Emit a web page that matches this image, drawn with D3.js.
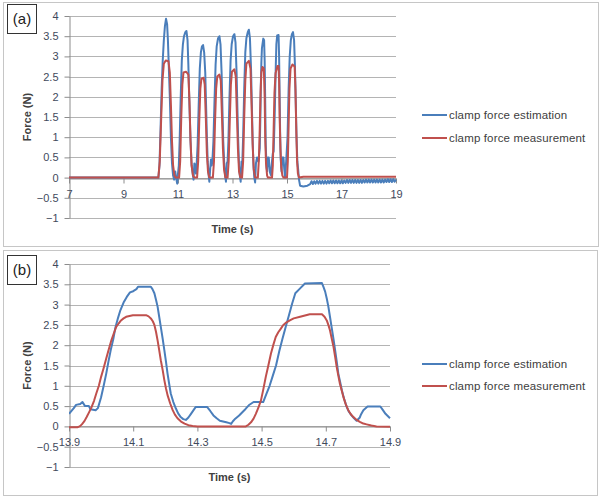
<!DOCTYPE html>
<html><head><meta charset="utf-8">
<script src="https://cdn.jsdelivr.net/npm/d3@7"></script>
<style>
html,body{margin:0;padding:0;background:#fff;}
svg{display:block;font-family:"Liberation Sans",Arial,sans-serif;}
</style></head>
<body><svg id="c" width="600" height="496"></svg>
<script>
// ---------- DATA ----------
const seriesNames = ["clamp force estimation", "clamp force measurement"];
const seriesColors = ["#4a7ebb", "#c0504d"];
const yTicks = [-1, -0.5, 0, 0.5, 1, 1.5, 2, 2.5, 3, 3.5, 4];
const xTicksA = [7, 9, 11, 13, 15, 17, 19];
const xTicksB = [13.9, 14.1, 14.3, 14.5, 14.7, 14.9];
const panelLabels = ["(a)", "(b)"];

const estimationA = [
 [7,0],[10.28,0],[10.32,0.3],[10.36,1.2],[10.4,2.2],[10.44,2.9],[10.48,3.4],[10.52,3.75],[10.56,3.93],[10.6,3.8],[10.63,3.4],[10.66,2.8],[10.7,2.0],[10.74,1.0],[10.78,0.35],[10.82,0.05],[10.86,-0.05],[10.9,0.15],[10.93,0.0],[10.97,-0.15],[11.0,0.1],[11.03,0.3],
 [11.06,0.9],[11.1,2.0],[11.14,2.9],[11.18,3.3],[11.22,3.5],[11.27,3.6],[11.31,3.63],[11.35,3.4],[11.38,2.8],[11.42,1.8],[11.46,0.9],[11.5,0.3],[11.54,0.1],[11.57,-0.05],[11.6,0.35],[11.63,0.3],[11.66,0.1],[11.69,0.4],
 [11.72,0.8],[11.76,1.8],[11.8,2.7],[11.84,3.1],[11.88,3.25],[11.92,3.28],[11.96,3.1],[12.0,2.6],[12.03,1.8],[12.06,1.0],[12.09,0.4],[12.12,0.1],[12.15,-0.1],[12.18,0.2],[12.21,0.45],[12.24,0.3],[12.27,0.5],
 [12.3,0.9],[12.34,1.9],[12.38,2.8],[12.42,3.25],[12.47,3.45],[12.52,3.5],[12.56,3.3],[12.6,2.6],[12.63,1.7],[12.66,0.9],[12.7,0.3],[12.73,0.05],[12.76,-0.1],[12.79,0.35],[12.82,0.4],
 [12.85,0.9],[12.89,2.0],[12.93,2.9],[12.97,3.3],[13.02,3.5],[13.07,3.55],[13.11,3.35],[13.15,2.6],[13.18,1.7],[13.21,0.9],[13.24,0.3],[13.27,0.05],[13.3,-0.1],[13.33,0.4],[13.36,0.35],
 [13.39,1.0],[13.43,2.2],[13.47,3.1],[13.51,3.45],[13.56,3.6],[13.6,3.66],[13.64,3.45],[13.68,2.7],[13.71,1.8],[13.74,0.9],[13.77,0.3],[13.8,0.0],[13.83,-0.12],[13.86,0.35],[13.9,0.5],[13.95,0.4],
 [14.0,0.72],[14.02,1.4],[14.04,2.3],[14.06,2.86],[14.08,3.2],[14.11,3.35],[14.13,3.44],[14.16,3.4],[14.18,2.9],[14.2,1.9],[14.22,0.8],[14.25,0.25],[14.27,0.16],[14.3,0.5],[14.33,0.5],[14.37,0.14],[14.41,0.06],[14.45,0.4],[14.48,0.6],[14.51,0.65],
 [14.53,1.1],[14.55,1.6],[14.57,2.2],[14.59,2.8],[14.61,3.3],[14.64,3.52],[14.69,3.53],[14.71,3.0],[14.73,2.0],[14.75,1.0],[14.77,0.45],[14.8,0.15],[14.83,0.5],[14.87,0.5],[14.9,0.2],[14.93,0.0],[14.97,0.4],
 [15.02,1.0],[15.06,2.2],[15.1,3.0],[15.14,3.4],[15.18,3.55],[15.22,3.6],[15.26,3.4],[15.29,2.8],[15.32,1.9],[15.35,1.0],[15.38,0.4],[15.41,0.2],[15.44,-0.05],[15.48,-0.2],[15.6,-0.22],[15.75,-0.2],[15.85,-0.16],
 [15.9,-0.09],[15.95,-0.16],[16.0,-0.09],[16.05,-0.15],[16.1,-0.08],[16.15,-0.15],[16.2,-0.08],[16.25,-0.15],[16.3,-0.08],[16.35,-0.15],[16.4,-0.08],[16.45,-0.15],[16.5,-0.08],[16.55,-0.14],[16.6,-0.07],[16.65,-0.14],[16.7,-0.07],[16.75,-0.14],[16.8,-0.07],[16.85,-0.14],[16.9,-0.07],[16.95,-0.14],[17.0,-0.07],[17.05,-0.14],[17.1,-0.07],[17.15,-0.13],[17.2,-0.06],[17.25,-0.13],[17.3,-0.06],[17.35,-0.13],[17.4,-0.06],[17.45,-0.13],[17.5,-0.06],[17.55,-0.13],[17.6,-0.06],[17.65,-0.13],[17.7,-0.06],[17.75,-0.13],[17.8,-0.06],[17.85,-0.12],[17.9,-0.05],[17.95,-0.12],[18.0,-0.05],[18.05,-0.12],[18.1,-0.05],[18.15,-0.12],[18.2,-0.05],[18.25,-0.12],[18.3,-0.05],[18.35,-0.12],[18.4,-0.05],[18.45,-0.12],[18.5,-0.05],[18.55,-0.12],[18.6,-0.05],[18.65,-0.11],[18.7,-0.04],[18.75,-0.11],[18.8,-0.04],[18.85,-0.11],[18.9,-0.04],[18.95,-0.1],[19.0,-0.05]
];

const measurementA = [
 [7,0],[10.28,0],[10.33,0.4],[10.38,1.4],[10.43,2.4],[10.48,2.82],[10.55,2.9],[10.65,2.88],[10.7,2.6],[10.74,1.8],[10.78,0.9],[10.82,0.3],[10.87,0.05],[10.92,0],
 [11.04,0],[11.08,0.4],[11.12,1.5],[11.16,2.3],[11.2,2.6],[11.3,2.62],[11.38,2.55],[11.42,1.9],[11.46,0.9],[11.5,0.3],[11.55,0.05],[11.6,0],
 [11.7,0],[11.74,0.4],[11.78,1.4],[11.82,2.2],[11.86,2.45],[11.94,2.47],[11.98,2.3],[12.02,1.5],[12.06,0.6],[12.1,0.15],[12.15,0],
 [12.28,0],[12.32,0.4],[12.36,1.4],[12.4,2.2],[12.44,2.5],[12.52,2.55],[12.57,2.4],[12.61,1.6],[12.65,0.7],[12.69,0.2],[12.74,0],
 [12.82,0],[12.86,0.4],[12.9,1.4],[12.94,2.3],[12.98,2.62],[13.07,2.68],[13.12,2.5],[13.16,1.6],[13.2,0.7],[13.24,0.15],[13.29,0],
 [13.35,0],[13.39,0.4],[13.43,1.5],[13.47,2.4],[13.51,2.82],[13.6,2.89],[13.66,2.7],[13.7,1.8],[13.74,0.8],[13.78,0.2],[13.83,0],
 [13.93,0],[13.97,0.47],[14.0,1.22],[14.03,2.1],[14.06,2.6],[14.1,2.74],[14.15,2.7],[14.18,2.0],[14.2,1.0],[14.23,0.35],[14.27,0.05],[14.3,0],
 [14.45,0],[14.48,0.3],[14.51,1.2],[14.54,2.1],[14.58,2.58],[14.65,2.76],[14.69,2.76],[14.71,2.4],[14.73,1.5],[14.76,0.7],[14.79,0.25],[14.83,0.05],[14.87,0],
 [15.0,0],[15.03,0.4],[15.06,1.3],[15.09,2.2],[15.13,2.7],[15.2,2.8],[15.28,2.75],[15.31,2.2],[15.34,1.2],[15.37,0.4],[15.4,0.1],[15.44,0],[15.6,0.02],[19,0.02]
];

const estimationB = [
 [13.9,0.31],[13.915,0.45],[13.922,0.53],[13.935,0.55],[13.942,0.6],[13.95,0.5],[13.962,0.5],[13.967,0.42],[13.983,0.4],[13.99,0.45],[14.0,0.72],[14.008,1.0],[14.016,1.3],[14.023,1.6],[14.03,1.88],[14.038,2.15],[14.045,2.45],[14.053,2.68],[14.06,2.86],[14.07,3.05],[14.08,3.19],[14.09,3.3],[14.1,3.33],[14.11,3.38],[14.115,3.44],[14.155,3.44],[14.16,3.38],[14.166,3.28],[14.171,3.12],[14.176,2.95],[14.181,2.7],[14.186,2.45],[14.192,2.15],[14.197,1.88],[14.202,1.6],[14.207,1.3],[14.212,1.05],[14.217,0.81],[14.225,0.6],[14.233,0.44],[14.24,0.32],[14.248,0.23],[14.256,0.18],[14.264,0.16],[14.272,0.22],[14.28,0.31],[14.288,0.4],[14.295,0.48],[14.33,0.48],[14.34,0.38],[14.35,0.27],[14.36,0.2],[14.37,0.14],[14.38,0.12],[14.39,0.1],[14.4,0.08],[14.405,0.06],[14.41,0.12],[14.418,0.19],[14.43,0.27],[14.44,0.35],[14.45,0.43],[14.46,0.52],[14.475,0.6],[14.505,0.6],[14.515,0.8],[14.525,1.0],[14.535,1.25],[14.545,1.5],[14.555,1.85],[14.565,2.16],[14.575,2.45],[14.585,2.73],[14.595,3.02],[14.605,3.28],[14.62,3.4],[14.635,3.52],[14.688,3.53],[14.693,3.43],[14.698,3.32],[14.703,3.15],[14.708,2.95],[14.713,2.7],[14.718,2.45],[14.724,2.15],[14.729,1.88],[14.734,1.6],[14.739,1.3],[14.745,1.08],[14.75,0.89],[14.757,0.68],[14.765,0.48],[14.772,0.36],[14.78,0.27],[14.788,0.2],[14.796,0.14],[14.806,0.22],[14.81,0.3],[14.817,0.4],[14.83,0.49],[14.87,0.49],[14.878,0.4],[14.886,0.31],[14.9,0.2]
];

const measurementB = [
 [13.9,-0.02],[13.926,-0.02],[13.933,0.0],[13.94,0.05],[13.948,0.13],[13.955,0.23],[13.962,0.34],[13.97,0.47],[13.978,0.63],[13.985,0.81],[13.993,1.0],[14.0,1.22],[14.008,1.44],[14.016,1.67],[14.024,1.9],[14.032,2.12],[14.04,2.3],[14.047,2.45],[14.055,2.54],[14.062,2.61],[14.07,2.66],[14.078,2.7],[14.099,2.74],[14.14,2.74],[14.148,2.71],[14.155,2.66],[14.161,2.59],[14.166,2.5],[14.171,2.33],[14.176,2.12],[14.181,1.88],[14.186,1.63],[14.192,1.38],[14.197,1.14],[14.202,0.94],[14.207,0.77],[14.215,0.57],[14.223,0.4],[14.23,0.29],[14.238,0.2],[14.249,0.12],[14.26,0.07],[14.272,0.03],[14.285,0.01],[14.3,0.0],[14.451,0.0],[14.459,0.04],[14.467,0.1],[14.475,0.19],[14.482,0.31],[14.49,0.46],[14.498,0.64],[14.505,0.9],[14.513,1.22],[14.521,1.5],[14.529,1.79],[14.537,2.02],[14.544,2.2],[14.552,2.32],[14.56,2.41],[14.567,2.49],[14.575,2.55],[14.588,2.61],[14.6,2.66],[14.62,2.7],[14.65,2.76],[14.688,2.76],[14.696,2.7],[14.703,2.61],[14.708,2.5],[14.713,2.37],[14.718,2.18],[14.724,1.96],[14.729,1.72],[14.734,1.46],[14.739,1.25],[14.744,1.05],[14.75,0.87],[14.755,0.72],[14.762,0.55],[14.77,0.4],[14.778,0.3],[14.786,0.23],[14.796,0.16],[14.806,0.11],[14.817,0.07],[14.827,0.05],[14.842,0.02],[14.858,0.0],[14.9,-0.01]
];

// ---------- DRAW ----------
const svg = d3.select("#c");

function panel(cfg) {
  const g = svg.append("g");
  // outer frame
  g.append("rect").attr("x", cfg.frame[0] + 0.5).attr("y", cfg.frame[1] + 0.5)
    .attr("width", cfg.frame[2]).attr("height", cfg.frame[3])
    .attr("fill", "#fff").attr("stroke", "#c6c6c6").attr("stroke-width", 1);

  const x = d3.scaleLinear().domain(cfg.xDomain).range([cfg.left, cfg.right]);
  const y = d3.scaleLinear().domain([-1, 4]).range([cfg.bottom, cfg.top]);

  // gridlines
  g.append("g").selectAll("line").data(yTicks).join("line")
    .attr("x1", cfg.left).attr("x2", cfg.right)
    .attr("y1", d => Math.round(y(d)) + 0.5).attr("y2", d => Math.round(y(d)) + 0.5)
    .attr("stroke", "#b4b4b4").attr("stroke-width", 1);

  // y axis
  const ya = g.append("g").attr("transform", `translate(${cfg.left + 0.5},0)`)
    .call(d3.axisLeft(y).tickValues(yTicks).tickSize(5).tickSizeOuter(0).tickPadding(6)
      .tickFormat(d3.format("")));
  ya.select(".domain").attr("stroke", "#8c8c8c");
  ya.selectAll(".tick line").attr("stroke", "#8c8c8c");
  ya.selectAll(".tick text").attr("font-size", 11).attr("fill", "#3f4a5c")
    .attr("font-family", "'Liberation Sans',Arial,sans-serif");

  // x axis at y = 0
  const xa = g.append("g").attr("transform", `translate(0,${Math.round(y(0)) + 0.5})`)
    .call(d3.axisBottom(x).tickValues(cfg.xTicks).tickSize(5).tickSizeOuter(0).tickPadding(7)
      .tickFormat(d3.format("")));
  xa.select(".domain").attr("stroke", "#8c8c8c");
  xa.selectAll(".tick line").attr("stroke", "#8c8c8c");
  xa.selectAll(".tick text").attr("font-size", 11).attr("fill", "#3f4a5c")
    .attr("font-family", "'Liberation Sans',Arial,sans-serif");

  // lines
  const line = d3.line().x(d => x(d[0])).y(d => y(d[1]));
  const clipId = "clip" + cfg.id;
  g.append("clipPath").attr("id", clipId).append("rect")
    .attr("x", cfg.left).attr("y", cfg.top - 4).attr("width", cfg.right - cfg.left + 2).attr("height", cfg.bottom - cfg.top + 8);
  cfg.series.forEach((s, i) => {
    g.append("path").datum(s).attr("d", line).attr("fill", "none")
      .attr("clip-path", `url(#${clipId})`)
      .attr("stroke", seriesColors[i]).attr("stroke-width", 2).attr("stroke-linejoin", "round");
  });

  // axis titles
  g.append("text").attr("transform", `translate(${cfg.yTitleX},${(cfg.top + cfg.bottom) / 2}) rotate(-90)`)
    .attr("text-anchor", "middle").attr("font-size", 11).attr("font-weight", "bold").attr("fill", "#404040")
    .text("Force (N)");
  g.append("text").attr("x", (cfg.left + cfg.right) / 2).attr("y", cfg.xTitleY)
    .attr("text-anchor", "middle").attr("font-size", 11).attr("font-weight", "bold").attr("fill", "#404040")
    .text("Time (s)");

  // legend
  seriesNames.forEach((n, i) => {
    const ly = cfg.legendY[i];
    g.append("line").attr("x1", 422).attr("x2", 447).attr("y1", ly).attr("y2", ly)
      .attr("stroke", seriesColors[i]).attr("stroke-width", 2);
    g.append("text").attr("x", 449).attr("y", ly + 4).attr("font-size", 11.5)
      .attr("letter-spacing", 0.15).attr("fill", "#404040").text(n);
  });

  // panel label box
  g.append("rect").attr("x", 7.5).attr("y", cfg.labelBox + 0.5).attr("width", 29).attr("height", 29)
    .attr("fill", "#fff").attr("stroke", "#333").attr("stroke-width", 1);
  g.append("text").attr("x", 22).attr("y", cfg.labelBox + 20).attr("text-anchor", "middle")
    .attr("font-size", 15).attr("fill", "#222").text(cfg.label);
}

panel({
  id: "a", frame: [3, 2, 595, 244], label: panelLabels[0], labelBox: 4,
  xDomain: [7, 19], xTicks: xTicksA, left: 69, right: 396, top: 16, bottom: 218,
  yTitleX: 31, xTitleY: 233, legendY: [115, 138], series: [estimationA, measurementA]
});
panel({
  id: "b", frame: [3, 250, 594, 245], label: panelLabels[1], labelBox: 255,
  xDomain: [13.9, 14.9], xTicks: xTicksB, left: 69, right: 390, top: 264, bottom: 467,
  yTitleX: 31, xTitleY: 481, legendY: [364, 386], series: [estimationB, measurementB]
});
</script></body></html>
